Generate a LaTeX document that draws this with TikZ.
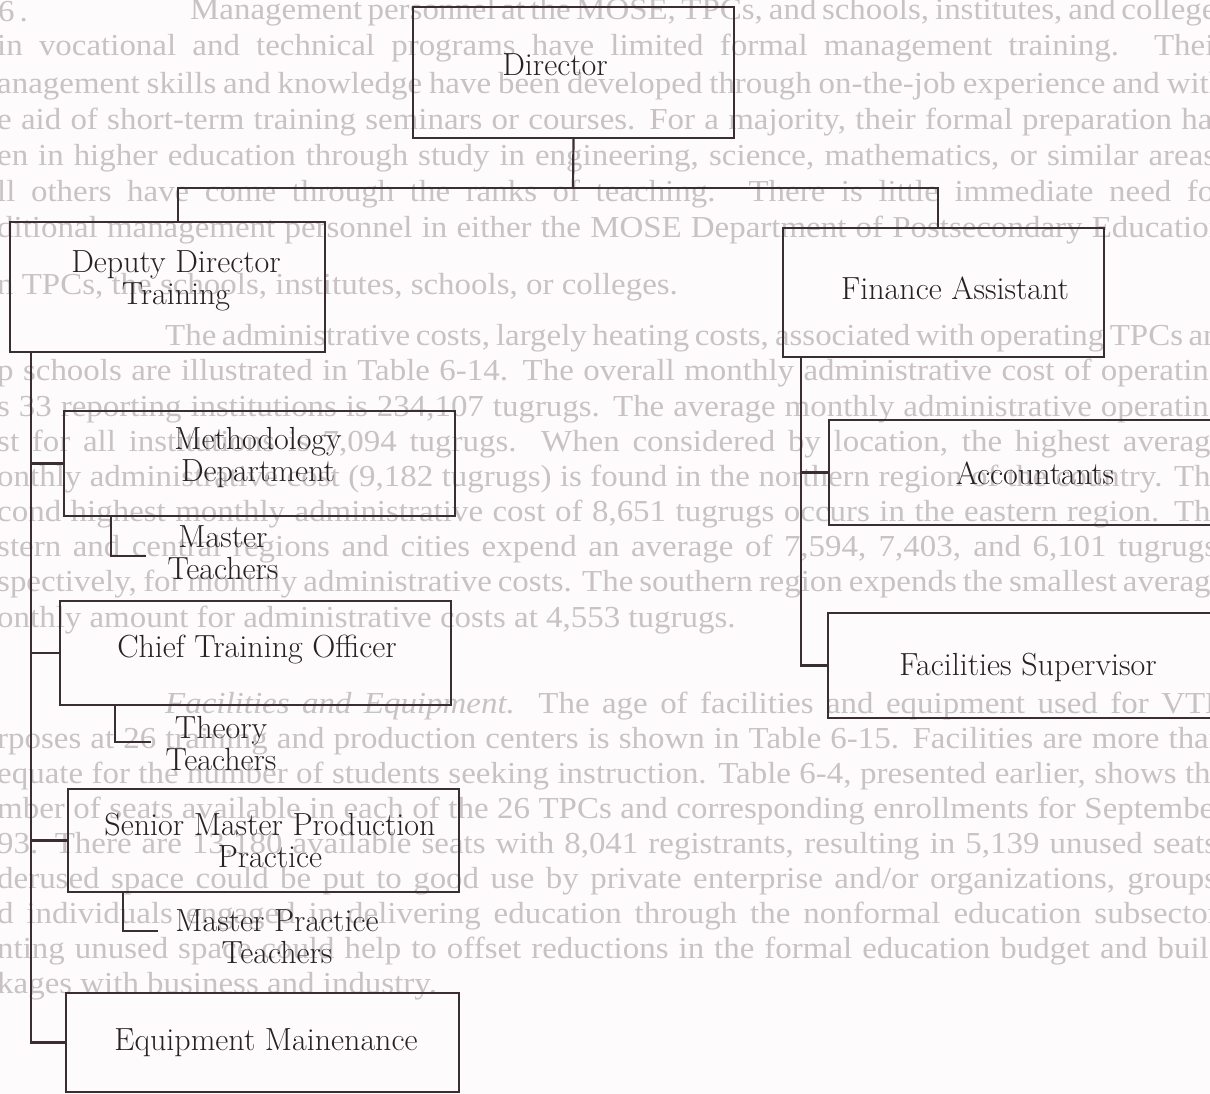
\documentclass[tikz,border=0pt]{standalone}
\usepackage{fontspec}
\newfontfamily\pagefont[FakeStretch=1.08]{Liberation Serif}
\usetikzlibrary{calc}

\definecolor{paper}{RGB}{253,251,251}
\definecolor{bleed}{RGB}{200,194,196}
\definecolor{ink}{RGB}{40,33,36}
\definecolor{rule}{RGB}{58,46,50}

\tikzset{
  orgbox/.style={draw=rule, line width=2.2pt, inner sep=0pt},
  lbl/.style={text=ink, font=\fontsize{32}{32}\selectfont, align=center, inner sep=0pt},
  wire/.style={draw=rule, line width=2.2pt},
  bgline/.style={anchor=west, text=bleed, font=\pagefont\fontsize{30.5}{36}\selectfont, inner sep=0pt},
}
% a justified line of the page text
\newcommand{\fullline}[1]{\makebox[1228pt][s]{#1}}

\begin{document}
\begin{tikzpicture}[x=1pt,y=-1pt]
\useasboundingbox (0,0) rectangle (1210,1094);
\clip (0,0) rectangle (1210,1094);
\fill[paper] (0,0) rectangle (1210,1094);

% ---- page text showing through ----
\node[bgline] (pn6) at (-2,12) {6\,.};
\node[bgline] (p1)  at (190,12) {\makebox[1035pt][s]{Management personnel at the MOSE, TPCs, and schools, institutes, and colleges}};
\node[bgline] (p2)  at (-3,48)  {\fullline{in vocational and technical programs have limited formal management training. Their}};
\node[bgline] (p3)  at (-3,86)  {\fullline{anagement skills and knowledge have been developed through on-the-job experience and with}};
\node[bgline] (p4)  at (-3,122) {\fullline{e aid of short-term training seminars or courses. For a majority, their formal preparation has}};
\node[bgline] (p5)  at (-3,158) {\fullline{en in higher education through study in engineering, science, mathematics, or similar areas;}};
\node[bgline] (p6)  at (-3,194) {\fullline{ll others have come through the ranks of teaching. There is little immediate need for}};
\node[bgline] (p7)  at (-3,230) {\fullline{ditional management personnel in either the MOSE Department of Postsecondary Education}};
\node[bgline] (p8)  at (-3,287) {n TPCs, the schools, institutes, schools, or colleges.};

\node[bgline] (p9)  at (165,338) {\makebox[1060pt][s]{The administrative costs, largely heating costs, associated with operating TPCs and}};
\node[bgline] (p10) at (-3,373) {\fullline{p schools are illustrated in Table 6-14. The overall monthly administrative cost of operating}};
\node[bgline] (p11) at (-3,409) {\fullline{s 33 reporting institutions is 234,107 tugrugs. The average monthly administrative operating}};
\node[bgline] (p12) at (-3,444) {\fullline{st for all institutions is 7,094 tugrugs. When considered by location, the highest average}};
\node[bgline] (p13) at (-3,479) {\fullline{onthly administrative cost (9,182 tugrugs) is found in the northern region of the country. The}};
\node[bgline] (p14) at (-3,514) {\fullline{cond highest monthly administrative cost of 8,651 tugrugs occurs in the eastern region. The}};
\node[bgline] (p15) at (-3,549) {\fullline{stern and central regions and cities expend an average of 7,594, 7,403, and 6,101 tugrugs,}};
\node[bgline] (p16) at (-3,584) {\fullline{spectively, for monthly administrative costs. The southern region expends the smallest average}};
\node[bgline] (p17) at (-3,620) {onthly amount for administrative costs at 4,553 tugrugs.};

\node[bgline] (p18) at (165,706) {\makebox[1060pt][s]{\textit{Facilities and Equipment.} The age of facilities and equipment used for VTE}};
\node[bgline] (p19) at (-3,741) {\fullline{rposes at 26 training and production centers is shown in Table 6-15. Facilities are more than}};
\node[bgline] (p20) at (-3,776) {\fullline{equate for the number of students seeking instruction. Table 6-4, presented earlier, shows the}};
\node[bgline] (p21) at (-3,811) {\fullline{mber of seats available in each of the 26 TPCs and corresponding enrollments for September}};
\node[bgline] (p22) at (-3,846) {\fullline{93. There are 13,180 available seats with 8,041 registrants, resulting in 5,139 unused seats.}};
\node[bgline] (p23) at (-3,881) {\fullline{derused space could be put to good use by private enterprise and/or organizations, groups,}};
\node[bgline] (p24) at (-3,916) {\fullline{d individuals engaged in delivering education through the nonformal education subsector.}};
\node[bgline] (p25) at (-3,951) {\fullline{nting unused space could help to offset reductions in the formal education budget and build}};
\node[bgline] (p26) at (-3,986) {kages with business and industry.};

% ---- boxes ----
\node[orgbox, minimum width=321pt, minimum height=131pt] (dir) at (573.5,72.5) {};
\node[orgbox, minimum width=315pt, minimum height=130pt] (dep) at (167.5,287) {};
\node[orgbox, minimum width=321pt, minimum height=129pt] (fin) at (943.5,292.5) {};
\node[orgbox, minimum width=391pt, minimum height=105pt] (met) at (259.5,463.5) {};
\node[orgbox, minimum width=391pt, minimum height=104pt] (cto) at (255.5,653) {};
\node[orgbox, minimum width=391pt, minimum height=103pt] (smp) at (263.5,840.5) {};
\node[orgbox, minimum width=393pt, minimum height=99pt]  (equ) at (262.5,1042.5) {};
\node[orgbox, minimum width=411pt, minimum height=105pt] (acc) at (1034.5,472.5) {};
\node[orgbox, minimum width=412pt, minimum height=105pt] (fac) at (1034,665.5) {};

% ---- labels ----
\node[lbl] (t-dir) at (555,65)   {Director};
\node[lbl] (t-dep) at (176,281)  {Deputy Director\\Training};
\node[lbl] (t-fin) at (955,288)  {Finance Assistant};
\node[lbl] (t-met) at (258,458)  {Methodology\\Department};
\node[lbl] (t-mt)  at (223,553)  {Master\\Teachers};
\node[lbl] (t-cto) at (257,650)  {Chief Training Officer};
\node[lbl] (t-tt)  at (221,744)  {Theory\\Teachers};
\node[lbl] (t-smp) at (270,840)  {Senior Master Production\\Practice};
\node[lbl] (t-mp)  at (277,937)  {Master Practice\\Teachers};
\node[lbl] (t-equ) at (266,1043) {Equipment Mainenance};
\node[lbl] (t-acc) at (1035,473) {Accountants};
\node[lbl] (t-fac) at (1028,667) {Facilities Supervisor};

% ---- connectors ----
\coordinate (split) at (573,188);
\draw[wire] (dir.south) -- (split);
\draw[wire] ($(dep.north west)+(169,0)$) |- (split) -| ($(fin.north west)+(156,0)$);

\coordinate (trunk) at ($(dep.south west)+(22,0)$);
\draw[wire] (trunk) |- (equ.west);
\draw[wire] (trunk |- met.west) -- (met.west);
\draw[wire] (trunk |- cto.west) -- (cto.west);
\draw[wire] (trunk |- smp.west) -- (smp.west);

\coordinate (ftrunk) at ($(fin.south west)+(19,0)$);
\draw[wire] (ftrunk) |- (fac.west);
\draw[wire] (ftrunk |- acc.west) -- (acc.west);

\coordinate (mt-end) at (146,556);
\draw[wire] ($(met.south west)+(48,0)$) |- (mt-end);
\coordinate (tt-end) at (151,742);
\draw[wire] ($(cto.south west)+(56,0)$) |- (tt-end);
\coordinate (mp-end) at (158,931);
\draw[wire] ($(smp.south west)+(56,0)$) |- (mp-end);
\end{tikzpicture}
\end{document}
